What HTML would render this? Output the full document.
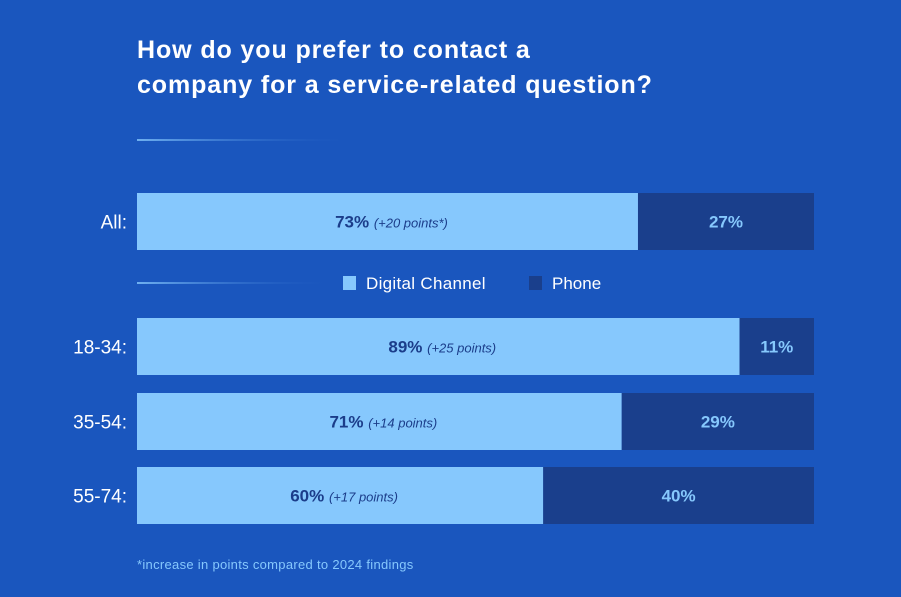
<!DOCTYPE html>
<html><head><meta charset="utf-8"><style>
body{margin:0;width:901px;height:597px;background:#1a56be;overflow:hidden;font-family:"Liberation Sans",sans-serif;}
svg{display:block}
</style></head><body>
<svg id="c" width="901" height="597">
<defs><linearGradient id="g" x1="0" x2="1"><stop offset="0" stop-color="#6fb0f0"/><stop offset="1" stop-color="#1a56be" stop-opacity="0"/></linearGradient></defs>
<text x="137" y="58" fill="#fff" font-size="25" font-weight="bold" letter-spacing="0.9">How do you prefer to contact a</text>
<text x="137" y="93" fill="#fff" font-size="25" font-weight="bold" letter-spacing="0.9">company for a service-related question?</text>
<rect x="137" y="139" width="220" height="2" fill="url(#g)"/>
<rect x="137" y="282" width="200" height="2" fill="url(#g)"/>
<rect x="343" y="276" width="13" height="14" fill="#86c8fd"/>
<text x="366" y="289" fill="#fff" font-size="17" letter-spacing="0.3">Digital Channel</text>
<rect x="529" y="276" width="13" height="14" fill="#1a3f8c"/>
<text x="552" y="289" fill="#fff" font-size="17">Phone</text>
<text x="137" y="569" fill="#86c8fd" font-size="13" letter-spacing="0.3">*increase in points compared to 2024 findings</text>
</svg>
<script>
const categories=["All:","18-34:","35-54:","55-74:"];
const digital=[74,89,71.6,60];
const phone=[26,11,28.4,40];
const digitalLabels=["73%","89%","71%","60%"];
const phoneLabels=["27%","11%","29%","40%"];
const notes=["(+20 points*)","(+25 points)","(+14 points)","(+17 points)"];
const rowY=[193,318,393,467];
const NS="http://www.w3.org/2000/svg";
const svg=document.getElementById('c');
const x0=137,W=677,H=57;
const xs=v=>v/100*W;
function mk(t,a,txt){const e=document.createElementNS(NS,t);for(const k in a)e.setAttribute(k,a[k]);if(txt!==undefined)e.textContent=txt;svg.appendChild(e);return e;}
categories.forEach((c,i)=>{
 const y=rowY[i];
 const l=mk('text',{x:127,y:y+H/2+7,fill:'#fff','font-size':19,'text-anchor':'end'},c);
 
 
 const wd=xs(digital[i]);
 const b1=mk('rect',{x:x0,y:y,width:wd,height:H,fill:'#86c8fd'});
 
 
 const b2=mk('rect',{x:x0+wd,y:y,width:xs(phone[i]),height:H,fill:'#1a3f8c'});
 
 
 const t=mk('text',{x:x0+wd/2+4,y:y+H/2+6,fill:'#1b3d8a','text-anchor':'middle'});
 
 
 const s1=document.createElementNS(NS,'tspan');s1.setAttribute('font-size','17');s1.setAttribute('font-weight','bold');s1.textContent=digitalLabels[i]+' ';t.appendChild(s1);
 const s2=document.createElementNS(NS,'tspan');s2.setAttribute('font-size','13');s2.setAttribute('font-style','italic');s2.textContent=notes[i];t.appendChild(s2);
 const p=mk('text',{x:x0+wd+xs(phone[i])/2,y:y+H/2+6,fill:'#86c8fd','font-size':17,'font-weight':'bold','text-anchor':'middle'},phoneLabels[i]);
 
 
});
</script>
</body></html>
